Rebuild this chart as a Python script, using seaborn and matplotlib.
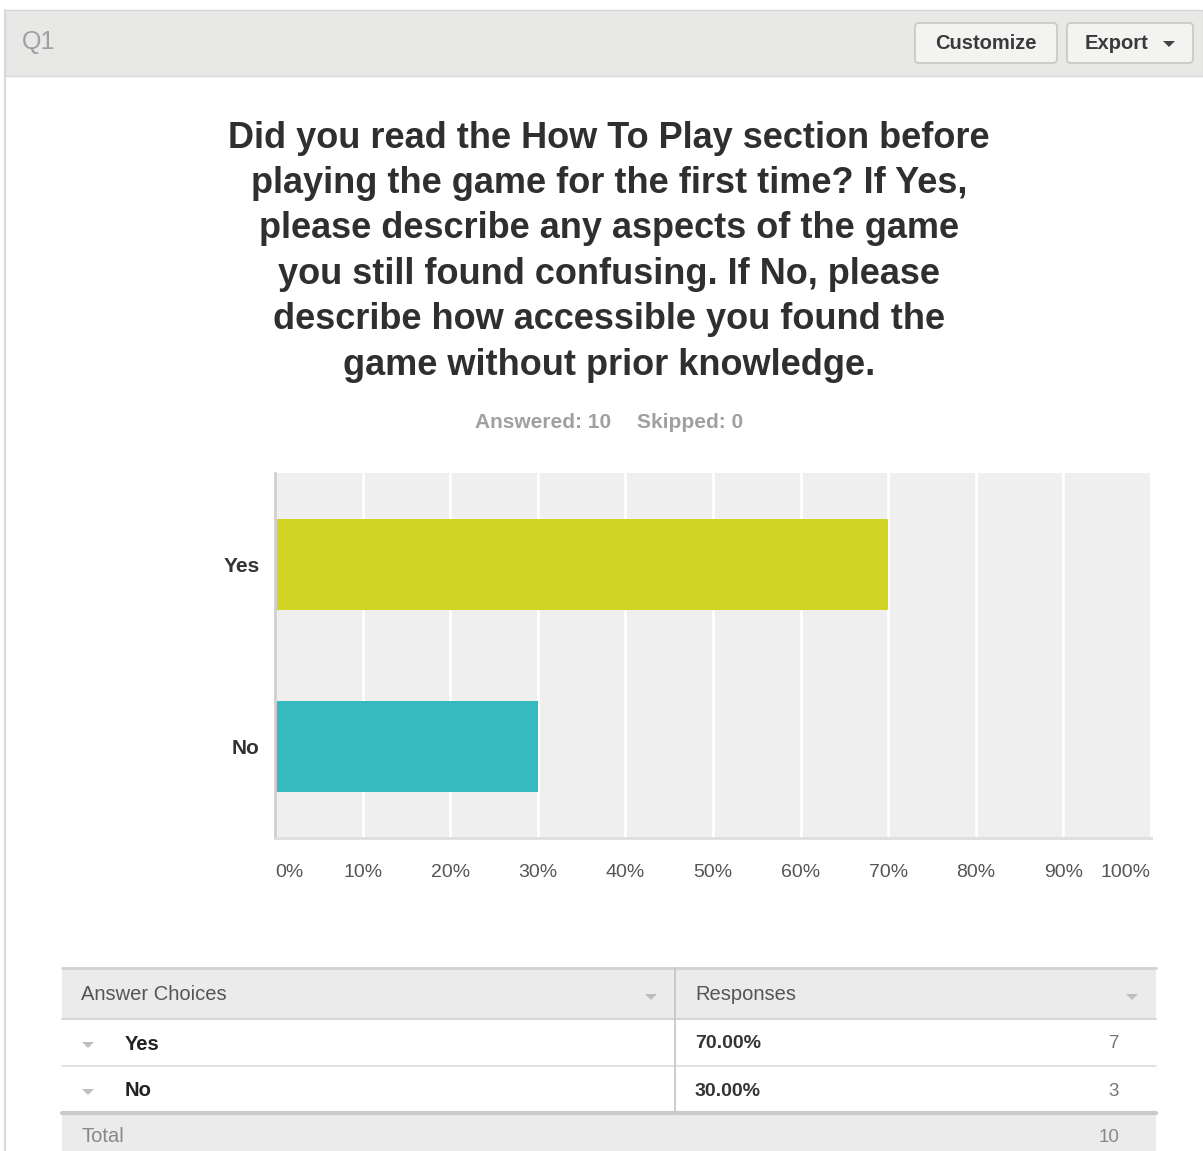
import matplotlib
matplotlib.use("Agg")
import matplotlib.pyplot as plt
import seaborn as sns
import pandas as pd
from matplotlib.patches import Rectangle, FancyBboxPatch, Polygon

# ---- data ----
question_id = "Q1"
title_lines = [
    "Did you read the How To Play section before",
    "playing the game for the first time? If Yes,",
    "please describe any aspects of the game",
    "you still found confusing. If No, please",
    "describe how accessible you found the",
    "game without prior knowledge.",
]
choices = ["Yes", "No"]
percent = [70.0, 30.0]
counts = [7, 3]
answered = 10
skipped = 0
total = 10
bar_colors = ["#d1d423", "#35bbbf"]
tick_values = [0, 10, 20, 30, 40, 50, 60, 70, 80, 90, 100]
tick_labels = [f"{v}%" for v in tick_values]

sns.set_theme(style="white")
plt.rcParams["font.family"] = ["Liberation Sans", "DejaVu Sans"]

W, H = 1203, 1151
fig = plt.figure(figsize=(W / 100, H / 100), dpi=100)
fig.patch.set_facecolor("white")

# page layer in pixel coordinates
page = fig.add_axes([0, 0, 1, 1], zorder=0)
page.set_xlim(0, W)
page.set_ylim(H, 0)
page.axis("off")

# panel border and header strip
page.plot([5, 5], [10, H], color="#d9d9d9", lw=1.5)
page.add_patch(Rectangle((5, 10), W - 5, 66, facecolor="#e8e8e6", edgecolor="#d6d6d4", lw=1))
page.text(22, 42, question_id, fontsize=18, color="#a0a0a0", va="center", ha="left")

for (x0, x1, label) in [(915, 1057, "Customize"), (1067, 1193, "Export")]:
    page.add_patch(FancyBboxPatch((x0, 23), x1 - x0, 40, boxstyle="round,pad=0,rounding_size=4",
                                  facecolor="#f3f3f1", edgecolor="#c6c6c4", lw=1.2))
page.text(986, 43, "Customize", fontsize=14.5, fontweight="bold", color="#3a3a3a", ha="center", va="center")
page.text(1085, 43, "Export", fontsize=14.5, fontweight="bold", color="#3a3a3a", ha="left", va="center")
page.add_patch(Polygon([[1163, 41], [1175, 41], [1169, 47]], closed=True, facecolor="#444444", edgecolor="none"))

# question title
for i, line in enumerate(title_lines):
    page.text(609, 138 + i * 45.4, line, fontsize=26, fontweight="bold", color="#2f2f2f",
              ha="center", va="center")

page.text(543, 422, f"Answered: {answered}", fontsize=15, fontweight="bold", color="#a0a0a0",
          ha="center", va="center")
page.text(690, 422, f"Skipped: {skipped}", fontsize=15, fontweight="bold", color="#a0a0a0",
          ha="center", va="center")

# ---- bar chart ----
ax = fig.add_axes([275 / W, 1 - 838 / H, 876 / W, 365 / H], zorder=2)
df = pd.DataFrame({"choice": choices, "percent": percent})
sns.barplot(data=df, x="percent", y="choice", hue="choice", palette=bar_colors,
            orient="h", width=0.5, legend=False, ax=ax, saturation=1, edgecolor="none")
ax.set_facecolor("#efefef")
ax.set_xlim(0, 100)
ax.set_ylim(1.5, -0.5)
ax.set_xticks(tick_values)
ax.set_xticklabels(tick_labels)
ax.set_axisbelow(True)
ax.grid(axis="x", color="white", lw=2)
ax.grid(axis="y", visible=False)
ax.set_xlabel("")
ax.set_ylabel("")
for s in ["top", "right"]:
    ax.spines[s].set_visible(False)
ax.spines["left"].set_color("#cfcfcf")
ax.spines["left"].set_linewidth(2)
ax.spines["bottom"].set_color("#dedede")
ax.spines["bottom"].set_linewidth(2)
ax.tick_params(axis="x", length=0, pad=19, labelsize=14, labelcolor="#555555")
ax.tick_params(axis="y", length=0, pad=11, labelsize=15, labelcolor="#333333")
for lab in ax.get_yticklabels():
    lab.set_fontweight("bold")
xl = ax.get_xticklabels()
xl[0].set_horizontalalignment("left")
xl[-1].set_horizontalalignment("right")

# ---- response table ----
tx0, tx1, tdiv = 62, 1156, 675
page.add_patch(Rectangle((tx0, 968), tx1 - tx0, 51, facecolor="#ebebeb", edgecolor="none"))
page.add_patch(Rectangle((tx0, 1113), tx1 - tx0, H - 1113, facecolor="#ebebeb", edgecolor="none"))
page.plot([tx0, tx1], [968, 968], color="#d3d3d3", lw=2)
page.plot([tx0, tx1], [1019, 1019], color="#d6d6d6", lw=1.5)
page.plot([tx0, tx1], [1066, 1066], color="#dcdcdc", lw=1.2)
page.plot([tx0, tx1], [1113, 1113], color="#cacaca", lw=3)
page.plot([tdiv, tdiv], [968, 1113], color="#c4c4c4", lw=1.2)

def tri(x, y, color="#bdbdbd"):
    page.add_patch(Polygon([[x - 6, y - 3], [x + 6, y - 3], [x, y + 3]], closed=True,
                           facecolor=color, edgecolor="none"))

page.text(81, 994, "Answer Choices", fontsize=14.5, color="#555555", ha="left", va="center")
page.text(695, 994, "Responses", fontsize=14.5, color="#555555", ha="left", va="center")
tri(651, 997)
tri(1132, 997)

row_y = [1044, 1091]
for choice, pct, cnt, y in zip(choices, percent, counts, row_y):
    tri(88, y + 1)
    page.text(125, y, choice, fontsize=14.5, fontweight="bold", color="#222222", ha="left", va="center")
    page.text(695, y, f"{pct:.2f}%", fontsize=14, fontweight="bold", color="#333333",
              ha="left", va="center")
    page.text(1119, y, str(cnt), fontsize=13.5, color="#777777", ha="right", va="center")

page.text(81, 1137, "Total", fontsize=14.5, color="#888888", ha="left", va="center")
page.text(1119, 1137, str(total), fontsize=13.5, color="#888888", ha="right", va="center")

fig.savefig("out.png", dpi=100, facecolor="white")
